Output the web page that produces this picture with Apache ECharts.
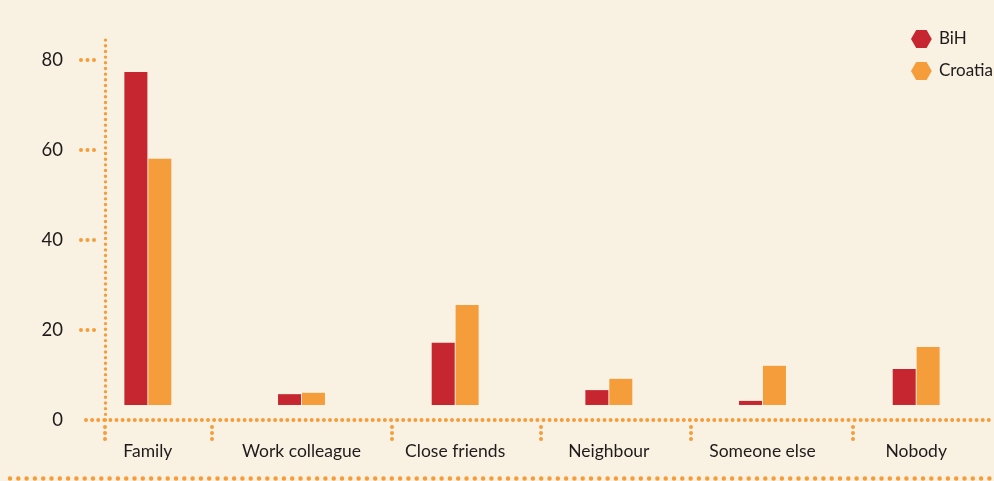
<!DOCTYPE html>
<html>
<head>
<meta charset="utf-8">
<script src="https://cdn.jsdelivr.net/npm/echarts@6/dist/echarts.min.js"></script>
<style>
  html, body { margin: 0; padding: 0; background: #f9f1e1; }
  #chart { width: 994px; height: 481px; }
</style>
</head>
<body>
<div id="chart"></div>
<script>
// categories and values (bar heights)
const categories = ['Family', 'Work colleague', 'Close friends', 'Neighbour', 'Someone else', 'Nobody']
const bih = [74.0, 2.4, 13.8, 3.3, 0.9, 8.0]
const croatia = [54.7, 2.7, 22.2, 5.8, 8.7, 12.9]
const yTicks = [20, 40, 60, 80]
// decorative separators under the x axis (px positions on the decor axis)
const separators = [105, 212, 392, 541, 691, 853]

const orange = '#f59d3b'
const red = '#c52630'
const textColor = '#1f1b1c'
const font = 'Lato'
const hexagon = 'path://M5,0 L15,0 L20,8.66 L15,17.32 L5,17.32 L0,8.66 Z'

const chart = echarts.init(document.getElementById('chart'))

const option = {
  backgroundColor: '#f9f1e1',
  animation: false,
  legend: {
    orient: 'vertical',
    left: 911,
    top: 30,
    padding: 0,
    itemWidth: 21,
    itemHeight: 18,
    itemGap: 14,
    icon: hexagon,
    textStyle: { fontFamily: font, fontSize: 17, color: textColor, padding: [0, 0, 0, 2] },
    data: ['BiH', 'Croatia']
  },
  grid: [
    { left: 71, right: 1, top: 60, bottom: 61 },   // bars
    { left: 86, right: 0, top: 40, bottom: 61 },   // dotted axes
    { left: 10, right: 0, top: 470, bottom: 3 }    // bottom dotted rule
  ],
  xAxis: [
    {
      type: 'category',
      gridIndex: 0,
      data: categories,
      axisLine: { show: false },
      axisTick: { show: false },
      axisLabel: { interval: 0, hideOverlap: false, fontFamily: font, fontSize: 17.5, color: textColor, margin: 22 }
    },
    {
      type: 'value',
      gridIndex: 1,
      min: 86,
      max: 994,
      axisLine: { lineStyle: { color: orange, width: 4, type: [0, 6.1], cap: 'round' } },
      axisTick: {
        show: true,
        length: 21,
        customValues: separators,
        lineStyle: { color: orange, width: 4, type: [0, 6, 0, 6, 0, 30], dashOffset: 35, cap: 'round' }
      },
      axisLabel: { show: false },
      splitLine: { show: false }
    },
    {
      type: 'value',
      gridIndex: 2,
      min: 0,
      max: 1,
      axisLine: { lineStyle: { color: orange, width: 4.5, type: [0, 8.3], cap: 'round' } },
      axisTick: { show: false },
      axisLabel: { show: false },
      splitLine: { show: false }
    }
  ],
  yAxis: [
    {
      type: 'value',
      gridIndex: 0,
      min: 0,
      max: 80,
      interval: 20,
      axisLine: { show: false },
      splitLine: { show: false },
      axisTick: {
        show: true,
        inside: true,
        length: 25,
        customValues: yTicks,
        lineStyle: { color: orange, width: 4, type: [0, 6.5, 0, 6.5, 0, 30], dashOffset: 33, cap: 'round' }
      },
      axisLabel: { fontFamily: font, fontSize: 18.5, color: textColor, margin: 8 }
    },
    {
      // bars sit on a baseline slightly above the labelled zero
      type: 'value',
      gridIndex: 0,
      min: -3.34,
      max: 76.66,
      show: false
    },
    {
      type: 'value',
      gridIndex: 1,
      min: 0,
      max: 1,
      offset: -19,
      axisLine: { show: true, lineStyle: { color: orange, width: 3.4, type: [0, 5.67], cap: 'round' } },
      axisTick: { show: false },
      axisLabel: { show: false },
      splitLine: { show: false }
    },
    {
      type: 'value',
      gridIndex: 2,
      show: false
    }
  ],
  series: [
    {
      name: 'BiH',
      type: 'bar',
      xAxisIndex: 0,
      yAxisIndex: 1,
      data: bih,
      barWidth: 23,
      barGap: '4%',
      itemStyle: { color: red }
    },
    {
      name: 'Croatia',
      type: 'bar',
      xAxisIndex: 0,
      yAxisIndex: 1,
      data: croatia,
      barWidth: 23,
      barGap: '4%',
      itemStyle: { color: orange }
    }
  ]
}

chart.setOption(option)
</script>
</body>
</html>
